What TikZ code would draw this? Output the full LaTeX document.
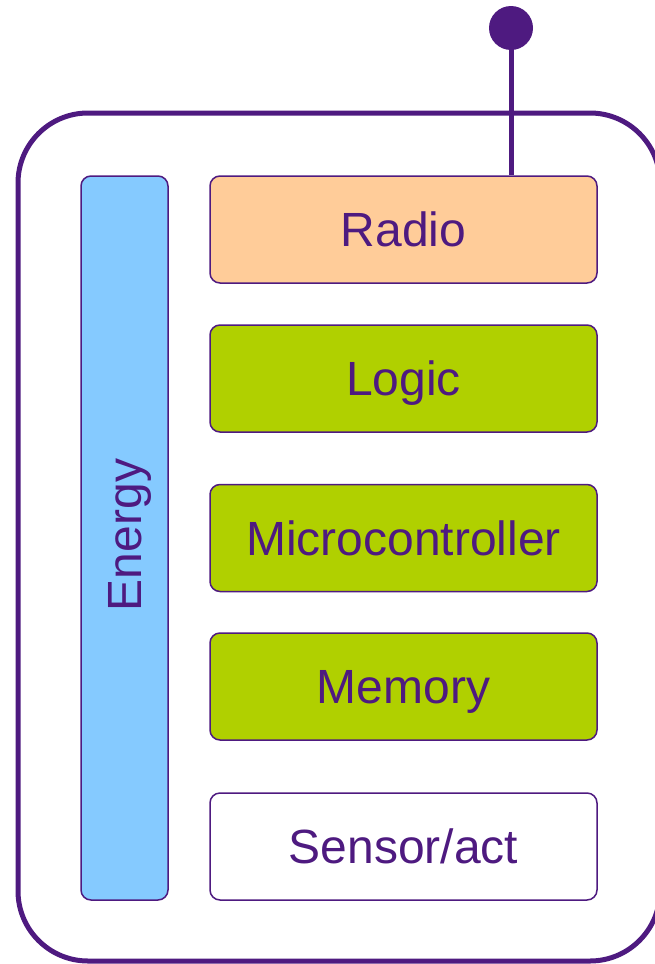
\documentclass[tikz,border=0pt]{standalone}
\usepackage{fontspec}
\setmainfont{Liberation Sans}
\usetikzlibrary{shapes,arrows}

\definecolor{nodepurple}{RGB}{78,26,128}
\definecolor{radiofill}{RGB}{255,204,153}
\definecolor{logicfill}{RGB}{176,208,0}
\definecolor{energyfill}{RGB}{133,202,255}

\tikzset{
  layer/.style={draw=nodepurple, line width=1.5pt, rounded corners=10pt, inner sep=0pt,
    minimum width=387pt, minimum height=107pt, text=nodepurple,
    text height=34pt, text depth=0pt, font=\fontsize{48}{56}\selectfont},
  energybar/.style={layer, fill=energyfill, minimum width=87pt, minimum height=724pt}
}

\begin{document}
\begin{tikzpicture}[x=1pt, y=-1pt, thick]
\useasboundingbox (0,0) rectangle (654,964);

				%\draw[help lines] (0,0) grid (654,964);
				\draw [nodepurple, line width=5pt, rounded corners=70pt] (18,113) rectangle (660,961); %caja del nodo
				\node [energybar] (energy) at (124.5,538) {};
				\node [rotate=90, inner sep=0pt, text=nodepurple, text height=34pt, text depth=0pt,
				       font=\fontsize{48}{56}\selectfont] (energytext) at (124.5,535) {Energy};
				\node [layer, fill=radiofill] (radio) at (403.5,229.5) {Radio};
				\node [layer, fill=logicfill] (logic) at (403.5,378.5) {Logic};
				\node [layer, fill=logicfill] (micro) at (403.5,538) {Microcontroller};
				\node [layer, fill=logicfill] (memory) at (403.5,686.5) {Memory};
				\node [layer, fill=white] (sensor) at (403.5,846.5) {Sensor/act};
				%antena
				\node [circle, fill=nodepurple, inner sep=0pt, minimum size=44pt] (antenna) at (511,28) {};
				\draw [nodepurple, line width=5pt] (antenna.center) -- (antenna.center |- radio.north);

\end{tikzpicture}
\end{document}
